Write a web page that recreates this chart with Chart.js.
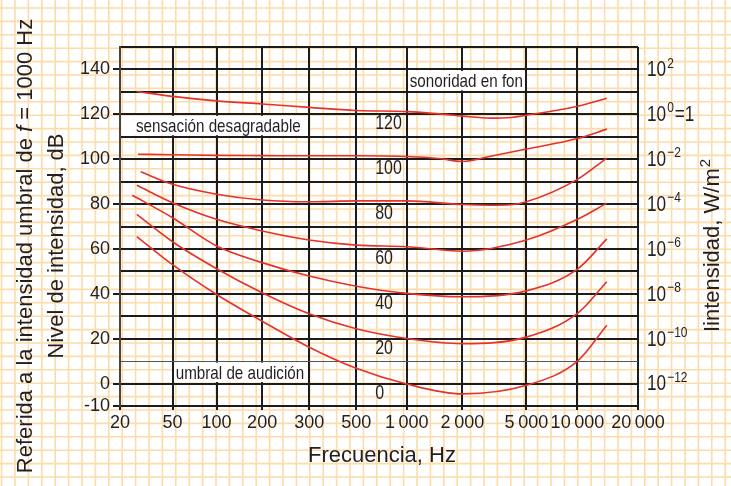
<!DOCTYPE html>
<html>
<head>
<meta charset="utf-8">
<script src="https://cdn.jsdelivr.net/npm/chart.js@4/dist/chart.umd.min.js"></script>
<style>
  body { margin: 0; background: #fff; }
  canvas { display: block; }
</style>
</head>
<body>
<canvas id="curvas" width="731" height="486"></canvas>
<script>
// DATOS
const freqTicks = [20, 50, 100, 200, 300, 500, 1000, 2000, 5000, 10000, 20000];
const freqLabels = ["20", "50", "100", "200", "300", "500", "1\u2009000", "2\u2009000", "5\u2009000", "10\u2009000", "20\u2009000"];
const dbLabels = [140, 120, 100, 80, 60, 40, 20, 0, -10];

const intensityAt = [140, 120, 100, 80, 60, 40, 20, 0];
const intensityExp = ["2", "0", "\u22122", "\u22124", "\u22126", "\u22128", "\u221210", "\u221212"];

const phon = [120, 100, 80, 60, 40, 20, 0];

const f120 = [26.7, 50, 100, 200, 300, 500, 1000, 1500, 2000, 3000, 4000, 5000, 10000, 14000];
const db120 = [130.2, 128, 126, 124.6, 123.1, 121.7, 121.2, 120.2, 119.2, 118.3, 118.6, 119.6, 123.6, 127.2];

const f100 = [27.4, 50, 100, 200, 300, 500, 1000, 1500, 2000, 3000, 5000, 10000, 14000];
const db100 = [102.2, 102, 101.7, 101.6, 101.5, 101.5, 101.2, 100.3, 99, 101.3, 104.5, 109.2, 113.4];

const f80 = [28.7, 50, 100, 200, 300, 500, 1000, 2000, 3000, 4000, 5000, 10000, 14000];
const db80 = [94.4, 88.8, 84.4, 81.8, 81, 81.4, 81.4, 79.8, 79.5, 79.7, 81, 91, 100.5];

const f60 = [26.8, 50, 100, 200, 300, 500, 1000, 2000, 5000, 10000, 14000];
const db60 = [88.4, 80.6, 73.2, 68, 64, 61.7, 61, 59, 64, 73.2, 80.4];

const f40 = [24.8, 50, 100, 200, 300, 500, 1000, 2000, 5000, 10000, 14000];
const db40 = [83.9, 73.9, 61.3, 53.9, 47.9, 43.4, 40.2, 38.7, 41.3, 51, 64.5];

const f20 = [26.8, 50, 100, 200, 300, 500, 1000, 2000, 5000, 10000, 14000];
const db20 = [75.4, 63.2, 51.2, 40.5, 31.1, 24.4, 20.1, 17.8, 20.7, 31.3, 45.4];

const f0 = [26.8, 50, 100, 200, 300, 500, 1000, 2000, 5000, 10000, 14000];
const db0 = [65.5, 53, 39.7, 27.8, 16.2, 6.8, -0.2, -4.6, -0.8, 10, 26];

// el eje de frecuencias del original está dibujado a mano, no es logarítmico:
// fracción del ancho donde cae cada marca
const tickPlace = [0, 0.1014, 0.1865, 0.2744, 0.3652, 0.456, 0.5536, 0.6609, 0.7845, 0.8831, 1];

function warp(f) {
    for (let i = 0; i < freqTicks.length - 1; i++) {
        const a = freqTicks[i], b = freqTicks[i + 1];
        if (f <= b || i === freqTicks.length - 2) {
            const t = Math.log(f / a) / Math.log(b / a);
            return tickPlace[i] + t * (tickPlace[i + 1] - tickPlace[i]);
        }
    }
}

const curves = [[f120, db120], [f100, db100], [f80, db80], [f60, db60], [f40, db40], [f20, db20], [f0, db0]];

const FONT = '"Liberation Sans", Arial, sans-serif';
const INK = "#231f20";
const GRID = "#1c1c1c";
const RED = "#e5322b";
const SQUEEZE = 0.8; // el original usa una letra condensada

Chart.defaults.font.family = FONT;
Chart.defaults.color = INK;

// texto condensado (no hay fuente estrecha instalada)
function narrowText(ctx, text, x, y, size) {
    ctx.save();
    ctx.font = size + "px " + FONT;
    ctx.translate(x, y);
    ctx.scale(SQUEEZE, 1);
    ctx.fillText(text, 0, 0);
    const w = ctx.measureText(text).width * SQUEEZE;
    ctx.restore();
    return w;
}

// PAPEL MILIMETRADO
const paper = {
    id: "paper",
    beforeDraw(chart) {
        const { ctx, width, height } = chart;
        ctx.save();
        ctx.fillStyle = "#fff";
        ctx.fillRect(0, 0, width, height);
        ctx.strokeStyle = "#fcdcaa";
        ctx.lineWidth = 1.6;
        ctx.beginPath();
        for (let x = 15 - 13.4; x < width; x += 13.4) {
            ctx.moveTo(x, 0);
            ctx.lineTo(x, height);
        }
        for (let y = 410 + 13.4 * 6; y > 0; y -= 13.4) {
            ctx.moveTo(0, y);
            ctx.lineTo(width, y);
        }
        ctx.stroke();
        ctx.restore();
    }
};

// ROTULOS
const notes = [
    { text: "sensación desagradable", from: 20, to: 300, top: 120, bottom: 110, indent: 14.5 },
    { text: "sonoridad en fon", from: 1000, to: 5000, top: 140, bottom: 130, indent: 1.5 },
    { text: "umbral de audición", from: 50, to: 300, top: 10, bottom: 0, indent: 1.7 }
];

const labels = {
    id: "labels",
    afterDatasetsDraw(chart) {
        const { ctx, chartArea, scales } = chart;
        const px = f => scales.x.getPixelForValue(warp(f));
        const py = v => scales.y.getPixelForValue(v);
        ctx.save();
        ctx.textAlign = "left";
        ctx.textBaseline = "middle";

        notes.forEach(n => {
            const x1 = px(n.from) + 1.5, x2 = px(n.to) - 1.5;
            const y1 = py(n.top) + 1.5, y2 = py(n.bottom) - 1.5;
            ctx.fillStyle = "#fff";
            ctx.fillRect(x1, y1, x2 - x1, y2 - y1);
            ctx.fillStyle = INK;
            narrowText(ctx, n.text, x1 + n.indent, (y1 + y2) / 2 + 1, 19);
        });

        // valores de sonoridad de cada curva
        ctx.fillStyle = INK;
        phon.forEach(p => {
            narrowText(ctx, String(p), px(500) + 19, py(p - 4.3), 20);
        });

        // eje derecho: intensidad en W/m2
        const x0 = chartArea.right + 9;
        intensityAt.forEach((v, i) => {
            const y = py(v);
            let x = x0;
            x += narrowText(ctx, "10", x, y + 1, 21.5) + 1;
            x += narrowText(ctx, intensityExp[i], x, y - 6, 15) + 1;
            if (v === 120) {
                narrowText(ctx, "=1", x, y + 1, 21.5);
            }
        });
        ctx.restore();
    },
    afterDraw(chart) {
        const { ctx } = chart;
        ctx.save();
        ctx.fillStyle = INK;
        ctx.textBaseline = "middle";
        ctx.textAlign = "left";

        // titulo izquierdo exterior, con la f en cursiva
        const parts = [
            ["Referida a la intensidad umbral de ", "22px " + FONT],
            ["f", "italic 22px " + FONT],
            [" = 1000 Hz", "22px " + FONT]
        ];
        let total = 0;
        parts.forEach(p => { ctx.font = p[1]; total += ctx.measureText(p[0]).width; });
        ctx.save();
        ctx.translate(26, 246);
        ctx.rotate(-Math.PI / 2);
        let x = -total / 2;
        parts.forEach(p => {
            ctx.font = p[1];
            ctx.fillText(p[0], x, 0);
            x += ctx.measureText(p[0]).width;
        });
        ctx.restore();

        ctx.font = "22px " + FONT;
        ctx.textAlign = "center";
        ctx.save();
        ctx.translate(57, 246);
        ctx.rotate(-Math.PI / 2);
        ctx.fillText("Nivel de intensidad, dB", 0, 0);
        ctx.restore();

        ctx.fillText("Frecuencia, Hz", 382, 456);

        // titulo derecho
        ctx.save();
        ctx.translate(713, 246);
        ctx.rotate(-Math.PI / 2);
        ctx.textAlign = "left";
        const main = "Iintensidad, W/m";
        ctx.font = "22px " + FONT;
        const w1 = ctx.measureText(main).width;
        ctx.font = "15px " + FONT;
        const w2 = ctx.measureText("2").width;
        const start = -(w1 + w2) / 2;
        ctx.font = "22px " + FONT;
        ctx.fillText(main, start, 0);
        ctx.font = "15px " + FONT;
        ctx.fillText("2", start + w1 + 1, -7);
        ctx.restore();

        ctx.restore();
    }
};

const ctx = document.getElementById("curvas").getContext("2d");

const chart = new Chart(ctx, {
    type: "line",
    data: {
        datasets: curves.map((c, i) => ({
            label: phon[i] + " fon",
            data: c[0].map((f, j) => ({ x: warp(f), y: c[1][j] })),
            borderColor: RED,
            borderWidth: 1.6,
            pointRadius: 0,
            fill: false,
            cubicInterpolationMode: "monotone"
        }))
    },
    options: {
        responsive: false,
        animation: false,
        layout: { padding: { left: 0, right: 93, top: 47, bottom: 0 } },
        plugins: {
            legend: { display: false },
            tooltip: { enabled: false }
        },
        scales: {
            x: {
                type: "linear",
                min: 0,
                max: 1,
                afterFit: s => { s.height = 80; },
                afterBuildTicks: s => { s.ticks = tickPlace.map(v => ({ value: v })); },
                ticks: {
                    autoSkip: false,
                    maxRotation: 0,
                    padding: 2,
                    color: INK,
                    font: { size: 18 },
                    callback: (v, i) => freqLabels[i]
                },
                grid: { color: GRID, lineWidth: 2, tickLength: 4 },
                border: { color: GRID, width: 2 }
            },
            y: {
                min: -10,
                max: 150,
                afterFit: s => { s.width = 120; },
                ticks: {
                    stepSize: 10,
                    autoSkip: false,
                    padding: 3,
                    color: INK,
                    font: { size: 18 },
                    callback: v => dbLabels.includes(v) ? String(v) : ""
                },
                grid: {
                    color: c => c.tick && c.tick.value === 10 ? "#555" : GRID,
                    lineWidth: c => c.tick && c.tick.value === 10 ? 1 : 2,
                    tickLength: 7,
                    tickColor: c => c.tick && dbLabels.includes(c.tick.value) ? GRID : "rgba(0,0,0,0)"
                },
                border: { color: "#4a4440", width: 2 }
            }
        }
    },
    plugins: [paper, labels]
});

console.log("curvas de igual sonoridad dibujadas");
</script>
</body>
</html>
